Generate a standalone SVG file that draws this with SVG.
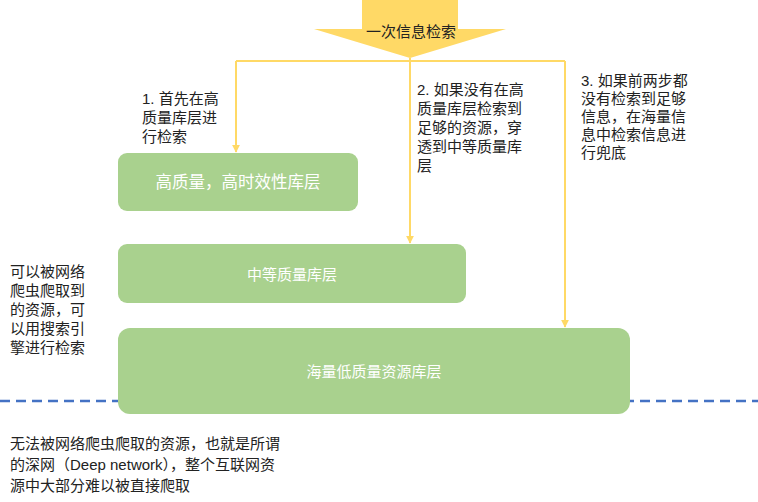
<svg xmlns="http://www.w3.org/2000/svg" width="758" height="502" viewBox="0 0 758 502">
<style>
.lbl{font-family:"Liberation Sans","Noto Sans CJK SC",sans-serif;font-size:15px;fill:#222}
.box{fill:#A9D18E}
.bt{font-family:"Liberation Sans","Noto Sans CJK SC",sans-serif;font-size:15px;fill:#fff;text-anchor:middle;dominant-baseline:central}
.con{stroke:#FFD966;stroke-width:2;fill:none}
</style>
<defs>
<marker id="ah" viewBox="0 0 10 10" refX="9" refY="5" markerWidth="4" markerHeight="4" orient="auto">
<path d="M0,0L10,5L0,10Z" fill="#FFD966"/>
</marker>
</defs>
<rect width="758" height="502" fill="#fff"/>
<g id="start">
<polygon points="362,0 458,0 458,29 506,29 410,58 314,29 362,29" fill="#FFD966"/>
<text class="lbl" x="411" y="31" text-anchor="middle" dominant-baseline="central">一次信息检索</text>
</g>
<g id="connectors">
<path class="con" d="M236,61H565"/>
<path class="con" d="M236,61V152" marker-end="url(#ah)"/>
<path class="con" d="M410,58V243" marker-end="url(#ah)"/>
<path class="con" d="M565,61V327" marker-end="url(#ah)"/>
</g>
<g id="divider">
<line x1="0" y1="401" x2="758" y2="401" stroke="#4472C4" stroke-width="2.5" stroke-dasharray="10,6"/>
</g>
<g id="high">
<rect class="box" x="118" y="153" width="240" height="58" rx="9"/>
<text class="bt" x="238" y="182" style="font-size:16.5px">高质量，高时效性库层</text>
</g>
<g id="mid">
<rect class="box" x="118" y="244" width="348" height="59" rx="9"/>
<text class="bt" x="292" y="274">中等质量库层</text>
</g>
<g id="low">
<rect class="box" x="118" y="328" width="512" height="86" rx="12"/>
<text class="bt" x="374" y="371">海量低质量资源库层</text>
</g>
<g id="label1">
<text class="lbl" x="142" y="104">1. 首先在高</text>
<text class="lbl" x="142" y="123">质量库层进</text>
<text class="lbl" x="142" y="142">行检索</text>
</g>
<g id="label2">
<text class="lbl" x="417" y="95">2. 如果没有在高</text>
<text class="lbl" x="417" y="114">质量库层检索到</text>
<text class="lbl" x="417" y="133">足够的资源，穿</text>
<text class="lbl" x="417" y="152">透到中等质量库</text>
<text class="lbl" x="417" y="171">层</text>
</g>
<g id="label3">
<text class="lbl" x="581" y="86">3. 如果前两步都</text>
<text class="lbl" x="581" y="104">没有检索到足够</text>
<text class="lbl" x="581" y="122">信息，在海量信</text>
<text class="lbl" x="581" y="140">息中检索信息进</text>
<text class="lbl" x="581" y="158">行兜底</text>
</g>
<g id="label-left">
<text class="lbl" x="10" y="277">可以被网络</text>
<text class="lbl" x="10" y="296">爬虫爬取到</text>
<text class="lbl" x="10" y="315">的资源，可</text>
<text class="lbl" x="10" y="334">以用搜索引</text>
<text class="lbl" x="10" y="353">擎进行检索</text>
</g>
<g id="label-bottom">
<text class="lbl" x="10" y="449">无法被网络爬虫爬取的资源，也就是所谓</text>
<text class="lbl" x="10" y="470">的深网（Deep network），整个互联网资</text>
<text class="lbl" x="10" y="491">源中大部分难以被直接爬取</text>
</g>
</svg>
